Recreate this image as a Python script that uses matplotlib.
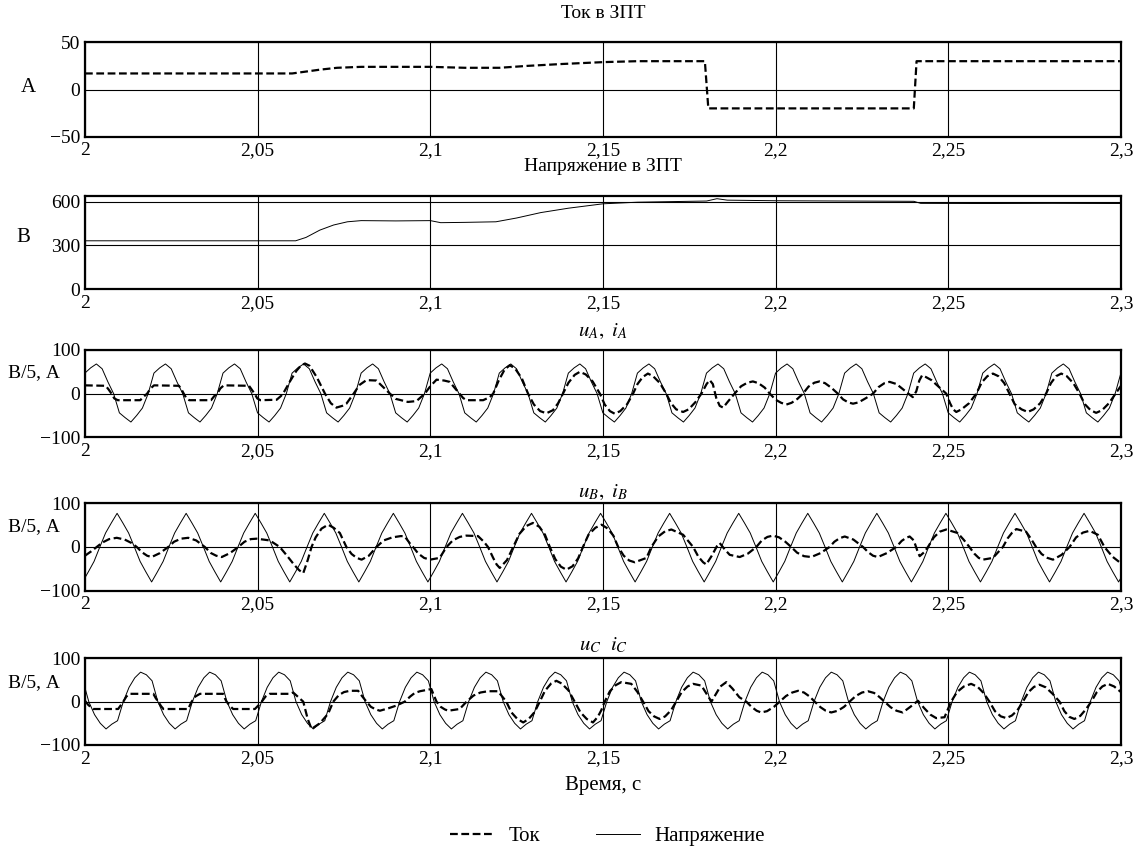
import numpy as np
import matplotlib.pyplot as plt
from matplotlib.lines import Line2D

plt.rcParams['font.family'] = ['Liberation Serif', 'DejaVu Serif']
plt.rcParams['mathtext.fontset'] = 'stix'

# x axis
xticks = [2.0, 2.05, 2.1, 2.15, 2.2, 2.25, 2.3]
xtick_labels = ['2', '2,05', '2,1', '2,15', '2,2', '2,25', '2,3']

# DC link current and voltage (t, value)
idc_pts = [(2.000, 17), (2.060, 17), (2.064, 19), (2.068, 21), (2.073, 23), (2.080, 24),
           (2.100, 24), (2.110, 23), (2.120, 23), (2.128, 25), (2.138, 27), (2.150, 29),
           (2.160, 30), (2.1795, 30), (2.1805, -20), (2.2400, -20), (2.2408, 30), (2.300, 30)]
udc_pts = [(2.000, 332), (2.061, 332), (2.064, 355), (2.068, 405), (2.072, 440), (2.076, 462),
           (2.080, 470), (2.090, 468), (2.100, 470), (2.103, 456), (2.110, 458), (2.119, 462),
           (2.125, 488), (2.132, 525), (2.140, 555), (2.150, 585), (2.160, 596), (2.170, 600),
           (2.180, 604), (2.183, 620), (2.186, 610), (2.200, 606), (2.240, 602), (2.242, 588),
           (2.260, 587), (2.280, 588), (2.300, 587)]

# phase voltages /5, sampled every 1/12 of a period starting at an upward zero crossing
ua_t0 = 1.9983
ua_v = [
    0, 47, 59, 68, 57, 27, 0, -44, -55, -65, -50, -33,
    0, 47, 59, 68, 57, 27, 0, -44, -55, -65, -50, -33,
    0, 47, 59, 68, 57, 27, 0, -44, -55, -65, -50, -33,
    0, 47, 59, 68, 57, 27, 0, -44, -55, -65, -50, -33,
    0, 47, 59, 68, 57, 27, 0, -44, -55, -65, -50, -33,
    0, 47, 59, 68, 57, 27, 0, -44, -55, -65, -50, -33,
    0, 47, 59, 68, 57, 27, 0, -44, -55, -65, -50, -33,
    0, 47, 59, 68, 57, 27, 0, -44, -55, -65, -50, -33,
    0, 47, 59, 68, 57, 27, 0, -44, -55, -65, -50, -33,
    0, 47, 59, 68, 57, 27, 0, -44, -55, -65, -50, -33,
    0, 47, 59, 68, 57, 27, 0, -44, -55, -65, -50, -33,
    0, 47, 59, 68, 57, 27, 0, -44, -55, -65, -50, -33,
    0, 47, 59, 68, 57, 27, 0, -44, -55, -65, -50, -33,
    0, 47, 59, 68, 57, 27, 0, -44, -55, -65, -50, -33,
    0, 47, 59, 68, 57, 27, 0, -44, -55, -65, -50, -33,
    0, 47, 59, 68, 57, 27, 0, -44, -55, -65, -50, -33,
]
ub_t0 = 1.9843
ub_v = [
    0, 32, 55, 77, 55, 32, 0, -33, -57, -80, -57, -33,
    0, 32, 55, 77, 55, 32, 0, -33, -57, -80, -57, -33,
    0, 32, 55, 77, 55, 32, 0, -33, -57, -80, -57, -33,
    0, 32, 55, 77, 55, 32, 0, -33, -57, -80, -57, -33,
    0, 32, 55, 77, 55, 32, 0, -33, -57, -80, -57, -33,
    0, 32, 55, 77, 55, 32, 0, -33, -57, -80, -57, -33,
    0, 32, 55, 77, 55, 32, 0, -33, -57, -80, -57, -33,
    0, 32, 55, 77, 55, 32, 0, -33, -57, -80, -57, -33,
    0, 32, 55, 77, 55, 32, 0, -33, -57, -80, -57, -33,
    0, 32, 55, 77, 55, 32, 0, -33, -57, -80, -57, -33,
    0, 32, 55, 77, 55, 32, 0, -33, -57, -80, -57, -33,
    0, 32, 55, 77, 55, 32, 0, -33, -57, -80, -57, -33,
    0, 32, 55, 77, 55, 32, 0, -33, -57, -80, -57, -33,
    0, 32, 55, 77, 55, 32, 0, -33, -57, -80, -57, -33,
    0, 32, 55, 77, 55, 32, 0, -33, -57, -80, -57, -33,
    0, 32, 55, 77, 55, 32, 0, -33, -57, -80, -57, -33,
    0, 32, 55, 77, 55, 32, 0, -33, -57, -80, -57, -33,
]
uc_t0 = 1.9911
uc_v = [
    0, 33, 55, 68, 62, 48, 0, -30, -50, -63, -52, -44,
    0, 33, 55, 68, 62, 48, 0, -30, -50, -63, -52, -44,
    0, 33, 55, 68, 62, 48, 0, -30, -50, -63, -52, -44,
    0, 33, 55, 68, 62, 48, 0, -30, -50, -63, -52, -44,
    0, 33, 55, 68, 62, 48, 0, -30, -50, -63, -52, -44,
    0, 33, 55, 68, 62, 48, 0, -30, -50, -63, -52, -44,
    0, 33, 55, 68, 62, 48, 0, -30, -50, -63, -52, -44,
    0, 33, 55, 68, 62, 48, 0, -30, -50, -63, -52, -44,
    0, 33, 55, 68, 62, 48, 0, -30, -50, -63, -52, -44,
    0, 33, 55, 68, 62, 48, 0, -30, -50, -63, -52, -44,
    0, 33, 55, 68, 62, 48, 0, -30, -50, -63, -52, -44,
    0, 33, 55, 68, 62, 48, 0, -30, -50, -63, -52, -44,
    0, 33, 55, 68, 62, 48, 0, -30, -50, -63, -52, -44,
    0, 33, 55, 68, 62, 48, 0, -30, -50, -63, -52, -44,
    0, 33, 55, 68, 62, 48, 0, -30, -50, -63, -52, -44,
    0, 33, 55, 68, 62, 48, 0, -30, -50, -63, -52, -44,
]
u_step = 0.02 / 12

# phase currents (t, value)
ia_pts = [
    (2.0000, 19), (2.0060, 18), (2.0068, 10), (2.0077, 0), (2.0085, -11), (2.0095, -15),
    (2.0160, -15), (2.0170, -7), (2.0180, 0), (2.0190, 12), (2.0200, 19), (2.0272, 18),
    (2.0280, 9), (2.0286, 0), (2.0294, -11), (2.0302, -15), (2.0365, -15), (2.0374, -6),
    (2.0383, 0), (2.0392, 12), (2.0402, 19), (2.0475, 18), (2.0484, 8), (2.0491, 0),
    (2.0499, -11), (2.0508, -15), (2.0555, -14), (2.0568, -5), (2.0578, 6), (2.0595, 30),
    (2.0612, 52), (2.0625, 64), (2.0637, 69), (2.0650, 64), (2.0671, 38), (2.0695, 0),
    (2.0712, -22), (2.0728, -32), (2.0745, -28), (2.0757, -23), (2.0778, 0), (2.0795, 20),
    (2.0815, 31), (2.0844, 30), (2.0865, 14), (2.0883, 0), (2.0900, -12), (2.0915, -15),
    (2.0935, -19), (2.0960, -17), (2.0984, 0), (2.1000, 17), (2.1018, 32), (2.1040, 30),
    (2.1056, 27), (2.1080, 4), (2.1095, -10), (2.1105, -15), (2.1153, -15), (2.1172, -8),
    (2.1182, 0), (2.1198, 30), (2.1215, 55), (2.1230, 65), (2.1245, 58), (2.1265, 35),
    (2.1283, 0), (2.1300, -25), (2.1318, -40), (2.1336, -45), (2.1355, -38), (2.1370, -22),
    (2.1384, 0), (2.1400, 25), (2.1418, 43), (2.1433, 50), (2.1450, 44), (2.1470, 28),
    (2.1491, 0), (2.1505, -25), (2.1520, -40), (2.1534, -46), (2.1550, -40), (2.1570, -24),
    (2.1587, 0), (2.1600, 22), (2.1615, 38), (2.1630, 46), (2.1645, 40), (2.1665, 24),
    (2.1683, 0), (2.1697, -22), (2.1712, -36), (2.1732, -42), (2.1748, -36), (2.1767, -20),
    (2.1785, 0), (2.1800, 22), (2.1809, 31), (2.1818, 22), (2.1828, -10), (2.1838, -28),
    (2.1848, -32), (2.1862, -18), (2.1881, 0), (2.1900, 17), (2.1918, 25), (2.1934, 28),
    (2.1950, 24), (2.1968, 14), (2.1983, 0), (2.2000, -14), (2.2016, -21), (2.2031, -25),
    (2.2046, -21), (2.2063, -12), (2.2079, 0), (2.2095, 16), (2.2112, 25), (2.2127, 28),
    (2.2143, 24), (2.2162, 13), (2.2180, 0), (2.2195, -13), (2.2210, -20), (2.2224, -23),
    (2.2240, -20), (2.2262, -10), (2.2282, 0), (2.2298, 15), (2.2315, 24), (2.2330, 27),
    (2.2350, 22), (2.2378, 4), (2.2397, -8), (2.2407, 5), (2.2416, 30), (2.2424, 42),
    (2.2435, 38), (2.2451, 31), (2.2472, 16), (2.2494, 0), (2.2505, -22), (2.2514, -36),
    (2.2523, -42), (2.2538, -36), (2.2560, -22), (2.2581, 0), (2.2597, 26), (2.2613, 40),
    (2.2629, 46), (2.2645, 40), (2.2662, 24), (2.2677, 0), (2.2692, -24), (2.2712, -36),
    (2.2730, -42), (2.2747, -36), (2.2766, -22), (2.2783, 0), (2.2797, 24), (2.2812, 40),
    (2.2827, 46), (2.2843, 40), (2.2862, 24), (2.2880, 0), (2.2895, -24), (2.2912, -38),
    (2.2928, -44), (2.2945, -38), (2.2965, -22), (2.2980, -5), (2.3000, 18),
]
ib_pts = [
    (2.0000, -20), (2.0018, -10), (2.0034, 0), (2.0050, 10), (2.0070, 18), (2.0092, 21),
    (2.0115, 17), (2.0135, 9), (2.0150, 0), (2.0165, -12), (2.0180, -20), (2.0193, -23),
    (2.0217, -14), (2.0241, 0), (2.0258, 12), (2.0278, 19), (2.0299, 21), (2.0322, 15),
    (2.0347, 0), (2.0365, -14), (2.0380, -20), (2.0396, -23), (2.0420, -14), (2.0444, 0),
    (2.0462, 12), (2.0480, 18), (2.0497, 19), (2.0535, 15), (2.0564, 0), (2.0585, -20),
    (2.0605, -40), (2.0620, -53), (2.0632, -60), (2.0645, -30), (2.0656, 0), (2.0668, 22),
    (2.0685, 42), (2.0704, 51), (2.0720, 44), (2.0738, 32), (2.0757, 0), (2.0772, -16),
    (2.0787, -25), (2.0801, -29), (2.0822, -20), (2.0844, 0), (2.0865, 15), (2.0890, 22),
    (2.0915, 25), (2.0926, 24), (2.0941, 8), (2.0950, 0), (2.0965, -15), (2.0982, -25),
    (2.0999, -29), (2.1027, -25), (2.1047, 0), (2.1065, 15), (2.1085, 23), (2.1104, 26),
    (2.1138, 25), (2.1155, 12), (2.1167, 0), (2.1182, -25), (2.1192, -40), (2.1201, -48),
    (2.1222, -30), (2.1240, 0), (2.1258, 30), (2.1278, 48), (2.1297, 55), (2.1316, 46),
    (2.1332, 28), (2.1346, 0), (2.1362, -28), (2.1378, -45), (2.1394, -52), (2.1412, -44),
    (2.1428, -26), (2.1442, 0), (2.1458, 28), (2.1478, 44), (2.1496, 51), (2.1514, 42),
    (2.1530, 26), (2.1544, 0), (2.1560, -20), (2.1576, -31), (2.1592, -35), (2.1626, -25),
    (2.1640, 0), (2.1660, 24), (2.1680, 36), (2.1698, 40), (2.1732, 28), (2.1761, 0),
    (2.1776, -22), (2.1790, -35), (2.1799, -40), (2.1815, -20), (2.1830, 2), (2.1838, 9),
    (2.1852, -5), (2.1867, -18), (2.1896, -23), (2.1920, -15), (2.1944, 0), (2.1960, 15),
    (2.1976, 23), (2.1992, 26), (2.2010, 22), (2.2028, 12), (2.2045, 0), (2.2062, -13),
    (2.2082, -21), (2.2103, -23), (2.2130, -14), (2.2156, 0), (2.2170, 12), (2.2185, 20),
    (2.2200, 24), (2.2225, 17), (2.2253, 0), (2.2268, -12), (2.2282, -20), (2.2296, -23),
    (2.2322, -14), (2.2349, 0), (2.2365, 14), (2.2378, 21), (2.2388, 24), (2.2400, 15),
    (2.2410, -8), (2.2417, -21), (2.2430, -12), (2.2441, 0), (2.2458, 22), (2.2475, 35),
    (2.2494, 40), (2.2527, 32), (2.2545, 16), (2.2561, 0), (2.2575, -15), (2.2588, -25),
    (2.2600, -29), (2.2629, -25), (2.2658, 0), (2.2672, 20), (2.2685, 33), (2.2697, 41),
    (2.2725, 35), (2.2740, 18), (2.2754, 0), (2.2770, -16), (2.2787, -25), (2.2803, -29),
    (2.2828, -18), (2.2851, 0), (2.2870, 22), (2.2890, 33), (2.2909, 37), (2.2933, 28),
    (2.2952, 0), (2.2975, -22), (2.2996, -35),
]
ic_pts = [
    (2.0000, 2), (2.0010, -8), (2.0024, -17), (2.0096, -17), (2.0104, -8), (2.0111, 0),
    (2.0120, 12), (2.0130, 18), (2.0198, 18), (2.0205, 8), (2.0212, 0), (2.0220, -10),
    (2.0227, -17), (2.0299, -17), (2.0304, -8), (2.0309, 0), (2.0320, 12), (2.0333, 18),
    (2.0400, 18), (2.0405, 8), (2.0410, 0), (2.0420, -10), (2.0429, -17), (2.0492, -17),
    (2.0503, -8), (2.0512, 0), (2.0523, 12), (2.0535, 18), (2.0593, 18), (2.0603, 21),
    (2.0618, 10), (2.0632, 0), (2.0645, -40), (2.0656, -63), (2.0680, -50), (2.0704, -28),
    (2.0719, 0), (2.0735, 15), (2.0750, 22), (2.0767, 25), (2.0791, 25), (2.0803, 12),
    (2.0815, 0), (2.0828, -12), (2.0842, -18), (2.0854, -21), (2.0880, -15), (2.0902, -9),
    (2.0926, 0), (2.0942, 12), (2.0955, 20), (2.0970, 24), (2.1003, 29), (2.1010, 15),
    (2.1018, 0), (2.1030, -12), (2.1042, -18), (2.1052, -21), (2.1085, -17), (2.1105, 0),
    (2.1125, 14), (2.1145, 21), (2.1167, 24), (2.1196, 24), (2.1208, 12), (2.1220, 0),
    (2.1235, -25), (2.1252, -40), (2.1269, -48), (2.1285, -40), (2.1302, -24), (2.1317, 0),
    (2.1332, 25), (2.1350, 42), (2.1365, 48), (2.1380, 42), (2.1400, 26), (2.1418, 0),
    (2.1435, -25), (2.1453, -40), (2.1471, -48), (2.1485, -35), (2.1495, -20), (2.1505, 0),
    (2.1520, 24), (2.1537, 38), (2.1553, 45), (2.1582, 41), (2.1600, 22), (2.1616, 0),
    (2.1632, -22), (2.1648, -34), (2.1664, -40), (2.1680, -34), (2.1697, -20), (2.1712, 0),
    (2.1728, 22), (2.1745, 35), (2.1761, 41), (2.1785, 37), (2.1800, 18), (2.1814, 0),
    (2.1825, 15), (2.1840, 35), (2.1857, 45), (2.1875, 30), (2.1895, 10), (2.1915, 0),
    (2.1930, -12), (2.1945, -21), (2.1958, -25), (2.1975, -22), (2.1995, -12), (2.2012, 0),
    (2.2030, 13), (2.2048, 21), (2.2065, 25), (2.2082, 21), (2.2098, 12), (2.2113, 0),
    (2.2130, -13), (2.2145, -21), (2.2161, -25), (2.2180, -21), (2.2198, -12), (2.2214, 0),
    (2.2232, 13), (2.2250, 21), (2.2267, 24), (2.2285, 20), (2.2300, 11), (2.2315, 0),
    (2.2333, -13), (2.2350, -21), (2.2368, -25), (2.2390, -12), (2.2412, 2), (2.2430, -15),
    (2.2448, -30), (2.2465, -38), (2.2489, -36), (2.2508, 0), (2.2525, 22), (2.2545, 35),
    (2.2566, 41), (2.2585, 34), (2.2602, 20), (2.2619, 0), (2.2635, -22), (2.2652, -34),
    (2.2668, -38), (2.2684, -32), (2.2700, -20), (2.2716, 0), (2.2732, 22), (2.2748, 34),
    (2.2764, 39), (2.2782, 33), (2.2802, 18), (2.2822, 0), (2.2836, -22), (2.2850, -35),
    (2.2865, -40), (2.2882, -33), (2.2898, -18), (2.2914, 0), (2.2930, 22), (2.2946, 35),
    (2.2962, 41), (2.2980, 35), (2.3000, 22),
]

dash = (0, (3.5, 1.6))
cur_kw = dict(color='black', lw=1.6, ls=dash)
vol_kw = dict(color='black', lw=0.7)

fig = plt.figure(figsize=(11.36, 8.46), dpi=100)
left, width = 0.0748, 0.912
boxes = [(0.8384, 0.1116), (0.6580, 0.1106), (0.4831, 0.1032), (0.3018, 0.1033), (0.1194, 0.1025)]
axes = [fig.add_axes([left, b, width, h]) for b, h in boxes]


def style(ax, ylim, yticks, ylabels):
    ax.set_xlim(2.0, 2.3)
    ax.set_ylim(*ylim)
    ax.set_xticks(xticks)
    ax.set_xticklabels(xtick_labels)
    ax.set_yticks(yticks)
    ax.set_yticklabels(ylabels)
    ax.grid(True, color='black', lw=0.8)
    ax.set_axisbelow(True)
    ax.tick_params(axis='x', length=0, labelsize=14, pad=4)
    ax.tick_params(axis='y', length=0, labelsize=14, pad=3.5)
    for s in ax.spines.values():
        s.set_linewidth(1.6)


def pts(p):
    a = np.array(p, dtype=float)
    return a[:, 0], a[:, 1]


# panel 1: DC current
ax = axes[0]
ax.plot(*pts(idc_pts), **cur_kw)
style(ax, (-50, 50), [-50, 0, 50], ['\u221250', '0', '50'])

# panel 2: DC voltage
ax = axes[1]
ax.plot(*pts(udc_pts), **vol_kw)
style(ax, (0, 640), [0, 300, 600], ['0', '300', '600'])

# panels 3-5: phase voltage and current
phase_data = [(ua_t0, ua_v, ia_pts), (ub_t0, ub_v, ib_pts), (uc_t0, uc_v, ic_pts)]
for ax, (t0, uv, ip) in zip(axes[2:], phase_data):
    ut = t0 + np.arange(len(uv)) * u_step
    ax.plot(ut, uv, **vol_kw)
    ax.plot(*pts(ip), **cur_kw)
    style(ax, (-100, 100), [-100, 0, 100], ['\u2212100', '0', '100'])

# titles
fig.text(0.531, 0.9835, 'Ток в ЗПТ', ha='center', va='center', fontsize=14)
fig.text(0.531, 0.8030, 'Напряжение в ЗПТ', ha='center', va='center', fontsize=14)
fig.text(0.531, 0.6076, r'$u_{A},\ i_{A}$', ha='center', va='center', fontsize=15)
fig.text(0.531, 0.4184, r'$u_{B},\ i_{B}$', ha='center', va='center', fontsize=15)
fig.text(0.531, 0.2376, r'$u_{C}\ \ i_{C}$', ha='center', va='center', fontsize=15)
fig.text(0.531, 0.0710, 'Время, с', ha='center', va='center', fontsize=15)

# y labels
fig.text(0.0246, 0.897, 'А', ha='center', va='center', fontsize=15)
fig.text(0.0202, 0.7187, 'В', ha='center', va='center', fontsize=15)
for yy in [0.5600, 0.3770, 0.1935]:
    fig.text(0.0070, yy, 'В/5, А', ha='left', va='center', fontsize=14)

# legend
handles = [Line2D([], [], color='black', lw=1.6, ls=dash),
           Line2D([], [], color='black', lw=0.7)]
fig.legend(handles, ['Ток', 'Напряжение'], loc='center', bbox_to_anchor=(0.535, 0.011),
           ncol=2, frameon=False, fontsize=15, handlelength=2.1, columnspacing=2.7,
           handletextpad=0.7)

fig.savefig('out.png', dpi=100)
